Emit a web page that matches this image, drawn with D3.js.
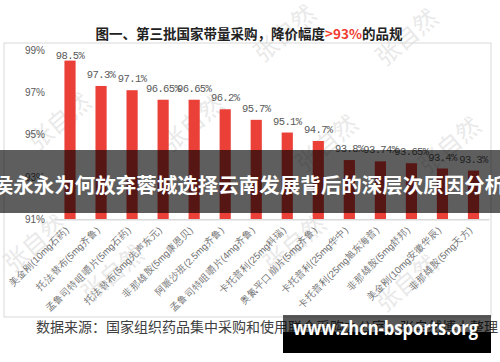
<!DOCTYPE html>
<html>
<head>
<meta charset="utf-8">
<script src="https://d3js.org/d3.v7.min.js"></script>
<style>
  body { margin: 0; background: #fff; }
  svg { display: block; font-family: "Noto Sans CJK SC", "Noto Sans", sans-serif; }
</style>
</head>
<body>
<div id="chart"></div>
<script>
// drug / manufacturer labels
var categories = [
  "美金刚(10mg石药)", "托法替布(5mg齐鲁)", "孟鲁司特咀嚼片(5mg石药)", "托法替布(5mg先声东元)",
  "非那雄胺(5mg康恩贝)", "阿哌沙班(2.5mg齐鲁)", "孟鲁司特咀嚼片(4mg齐鲁)", "卡托普利(25mg科瑞)",
  "奥氮平口崩片(5mg齐鲁)", "卡托普利(25mg华中)", "卡托普利(25mg旭东海普)", "非那雄胺(5mg舒邦)",
  "美金刚(10mg安徽华辰)", "非那雄胺(5mg天方)"
];
// price cut, percent
var cuts = [98.5, 97.3, 97.1, 96.65, 96.65, 96.2, 95.7, 95.1, 94.7, 93.8, 93.74, 93.65, 93.4, 93.3];
var yTicks = [91, 93, 95, 97, 99];

var W = 500, H = 362;
var svg = d3.select("#chart").append("svg").attr("width", W).attr("height", H);

// watermark "张自然"
var marks = [[290, 40], [412, 44], [65, 128], [198, 130], [332, 150], [455, 152], [40, 250], [118, 280], [300, 250], [412, 290]];
svg.append("g").selectAll("text").data(marks).enter().append("text")
  .attr("transform", function(d) { return "translate(" + d[0] + "," + d[1] + ") rotate(-40)"; })
  .attr("text-anchor", "middle")
  .attr("font-size", 24)
  .attr("fill", "#d0d0d0")
  .attr("opacity", 0.45)
  .text("张自然");

// frame
svg.append("rect").attr("x", 4).attr("y", 43).attr("width", 487).attr("height", 274)
  .attr("fill", "none").attr("stroke", "#d9d9d9").attr("stroke-width", 1);

// title
var title = svg.append("text").attr("x", 249).attr("y", 39).attr("text-anchor", "middle")
  .attr("font-size", 13.5).attr("font-weight", "bold").attr("fill", "#222");
title.append("tspan").text("图一、第三批国家带量采购，降价幅度");
title.append("tspan").attr("fill", "#f03c32").text(">93%");
title.append("tspan").text("的品规");

var x = d3.scaleBand().domain(categories).range([54.5, 489]).paddingInner(0.64).paddingOuter(0.32);
var y = d3.scaleLinear().domain([91, 99]).range([219.3, 50]);

// y axis
var ya = svg.append("g").attr("transform", "translate(50,0)")
  .call(d3.axisLeft(y).tickValues(yTicks).tickSize(0).tickPadding(5).tickFormat(function(d) { return d + "%"; }));
ya.select(".domain").remove();
ya.selectAll("text").attr("font-family", "Liberation Sans, Arial, sans-serif").attr("font-size", 10).attr("fill", "#595959");

// bars
svg.append("g").selectAll("rect").data(cuts).enter().append("rect")
  .attr("x", function(d, i) { return x(categories[i]); })
  .attr("y", function(d) { return y(d); })
  .attr("width", x.bandwidth())
  .attr("height", function(d) { return y(91) - y(d); })
  .attr("fill", "#ea4038");

// value labels
svg.append("g").selectAll("text").data(cuts).enter().append("text")
  .attr("x", function(d, i) { return x(categories[i]) + x.bandwidth() / 2; })
  .attr("y", function(d, i) { return i === 0 ? y(d) - 2 : y(d) - 8; })
  .attr("text-anchor", "middle")
  .attr("font-family", "Liberation Mono, monospace")
  .attr("font-size", 10.5)
  .attr("letter-spacing", -0.6)
  .attr("fill", "#595959")
  .text(function(d) { return d + "%"; });

// x axis
var xa = svg.append("g").attr("transform", "translate(0," + y(91) + ")")
  .call(d3.axisBottom(x).tickSize(0).tickSizeOuter(0).tickPadding(0));
xa.select(".domain").attr("stroke", "#d9d9d9").attr("stroke-width", 1.5);
xa.selectAll(".tick text")
  .attr("text-anchor", "end")
  .attr("transform", "translate(-3,9) rotate(-45)")
  .attr("y", 0).attr("dy", "0.35em")
  .attr("font-size", 9.5)
  .attr("fill", "#707070");

// source
svg.append("text").attr("x", 267).attr("y", 332).attr("text-anchor", "middle")
  .attr("font-size", 14).attr("fill", "#404040")
  .text("数据来源：国家组织药品集中采购和使用联合采购办公室，张自然博士整理");

// overlay banner
svg.append("rect").attr("x", 0).attr("y", 150).attr("width", W).attr("height", 63)
  .attr("fill", "#000").attr("opacity", 0.63);
svg.append("text").attr("x", 249).attr("y", 193).attr("text-anchor", "middle")
  .attr("font-size", 20.5).attr("font-weight", "bold").attr("fill", "#fff")
  .text("侯永永为何放弃蓉城选择云南发展背后的深层次原因分析");

// site badge
svg.append("rect").attr("x", 283).attr("y", 315).attr("width", 208).attr("height", 17)
  .attr("fill", "#000").attr("opacity", 0.65);
svg.append("rect").attr("x", 283).attr("y", 332).attr("width", 208).attr("height", 21)
  .attr("fill", "#000");
svg.append("text").attr("x", 293).attr("y", 335)
  .attr("font-family", "Open Sans, DejaVu Sans, sans-serif")
  .attr("font-size", 19).attr("font-weight", "bold").attr("fill", "#fff")
  .attr("textLength", 185).attr("lengthAdjust", "spacingAndGlyphs")
  .text("www.zhcn-bsports.org");
</script>
</body>
</html>
